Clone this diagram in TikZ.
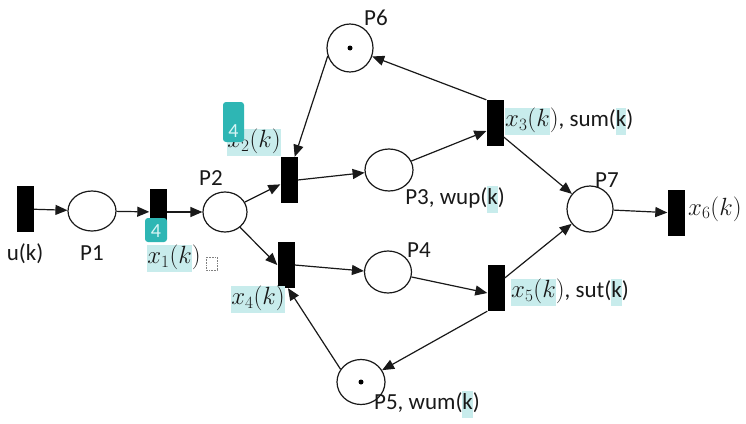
\documentclass[tikz,border=0pt]{standalone}
\usepackage{fontspec}
\setmainfont{Carlito}
\usetikzlibrary{arrows.meta,shapes.geometric,calc}
\definecolor{hl}{RGB}{200,236,236}
\definecolor{badgec}{RGB}{46,182,180}
\definecolor{ink}{RGB}{25,25,25}
\newcommand{\hlbox}[1]{{\setlength{\fboxsep}{0pt}\colorbox{hl}{\strut #1}}}
\newcommand{\mth}[1]{{\fontsize{25}{28}\selectfont$#1$}}
\tikzset{
  every node/.style={font=\fontsize{23}{27}\selectfont, text=ink},
  place/.style={ellipse, draw=ink, line width=1.2pt, minimum width=47pt, minimum height=42pt, inner sep=0pt},
  trans/.style={rectangle, fill=black, draw=none, minimum width=17pt, minimum height=46pt, inner sep=0pt},
  arr/.style={-{Triangle[length=12pt,width=10pt]}, line width=1.2pt, draw=ink},
  lbl/.style={inner sep=0pt},
  badgebox/.style={rectangle, rounded corners=3pt, fill=badgec, draw=none, inner sep=0pt},
  badgetxt/.style={inner sep=0pt, text={rgb,255:red,215;green,245;blue,245}, font=\fontsize{20}{22}\selectfont},
  token/.style={circle, fill=black, inner sep=0pt, minimum size=5pt}
}
\begin{document}
\begin{tikzpicture}[x=1pt,y=-1pt]
\useasboundingbox[fill=white] (0,0) rectangle (746,423);

% transitions
\node[trans] (u)  at (25.5,209) {};
\node[trans] (t1) at (158,212) {};
\node[trans] (t2) at (289,180) {};
\node[trans] (t4) at (286,265) {};
\node[trans] (t3) at (495,123) {};
\node[trans] (t5) at (496,288) {};
\node[trans] (t6) at (676,213) {};

% places
\node[place, minimum width=48pt, minimum height=40pt] (p1) at (92,211) {};
\node[place, minimum width=44pt, minimum height=40pt] (p2) at (225,212) {};
\node[place, minimum width=48pt, minimum height=42pt] (p3) at (389,170) {};
\node[place, minimum width=47pt, minimum height=42pt] (p4) at (388,272) {};
\node[place, minimum width=48pt, minimum height=45pt] (p5) at (361,382) {};
\node[place, minimum width=46pt, minimum height=48pt] (p6) at (350,48) {};
\node[place, minimum width=46pt, minimum height=46pt] (p7) at (590,209) {};
\node[token] (k6) at (p6.center) {};
\node[token] (k5) at (p5.center) {};

% arcs
\draw[arr] (u) -- (p1);
\draw[arr] (p1) -- (t1);
\draw[arr] (t1) -- (p2);
\draw[arr] (p2) -- (t2);
\draw[arr] (p2) -- (t4.west);
\draw[arr] (t2.east) -- (p3);
\draw[arr] (t4.east) -- ($(p4.west)+(0,-1)$);
\draw[arr] (p3) -- ($(t3.west)+(0,8)$);
\draw[arr] (p4) -- ($(t5.west)+(0,5)$);
\draw[arr] (t3.north west) -- (p6);
\draw[arr] (p6.200) -- ($(t2.north east)+(-3,0)$);
\draw[arr] ($(t3.east)+(0,14)$) -- (p7);
\draw[arr] ($(t5.east)+(0,-10)$) -- (p7);
\draw[arr] (t5.south west) -- (p5);
\draw[arr] (p5.148) -- ($(t4.south)+(2,0)$);
\draw[arr] (p7) -- (t6);

% labels
\node[lbl] (lu) at (25,254) {u(k)};
\node[lbl] (l1) at (92,253) {P1};
\node[lbl] (lx1) at (174,258) {\hlbox{\mth{x_1(k}}\mth{)}};
\draw[densely dotted, gray, line width=0.6pt] (206,257) rectangle (217,270);
\node[lbl] (l2) at (211,178) {P2};
\node[lbl] (lx2) at (254,142) {\hlbox{\mth{x_2(k)}}};
\node[lbl] (lx4) at (258,299) {\hlbox{\mth{x_4(k)}}};
\node[lbl] (l3) at (455,199) {P3, wup(\hlbox{k})};
\node[lbl] (l4) at (419,250) {P4};
\node[lbl, anchor=west] (lx3) at (505,121) {\hlbox{\mth{x_3(k}}\mth{)}, sum(\hlbox{k})};
\node[lbl, anchor=west] (lx5) at (511,292) {\hlbox{\mth{x_5(k}}\mth{)}, sut(\hlbox{k})};
\node[lbl] (l6) at (376,18) {P6};
\node[lbl] (l5) at (427,404) {P5, wum(\hlbox{k})};
\node[lbl] (l7) at (607,180) {P7};
\node[lbl, anchor=west] (lx6) at (688,209) {\mth{x_6(k)}};

% badges
\node[badgebox, minimum width=22pt, minimum height=24pt] (b1) at (156,230) {};
\node[badgetxt] (b1t) at (156,231) {4};
\node[badgebox, minimum width=21pt, minimum height=40pt] (b2) at (233.5,122) {};
\node[badgetxt] (b2t) at (233.5,131) {4};
\end{tikzpicture}
\end{document}
